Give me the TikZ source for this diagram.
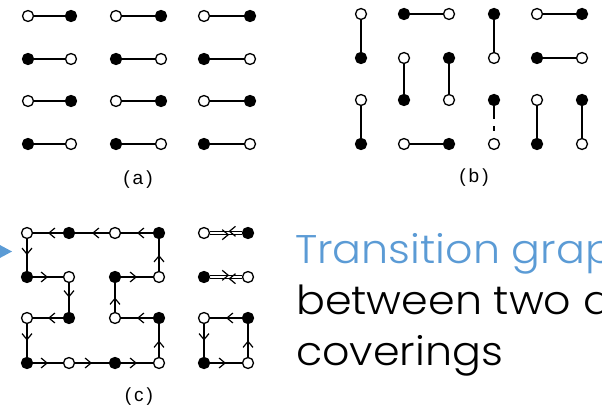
\documentclass[tikz,border=0pt]{standalone}
\usepackage{fontspec}
\usetikzlibrary{arrows.meta,decorations.markings}
\newfontfamily\gothic{Poppins}[UprightFont=* Light,FakeStretch=1.07]
\newfontfamily\labelfont{Liberation Sans}
\definecolor{accent}{HTML}{5B9BD5}
\tikzset{
 vtx/.style={circle,draw=black,line width=1.3pt,minimum size=11pt,inner sep=0pt},
 openv/.style={vtx,fill=white},
 fullv/.style={vtx,fill=black},
 dimer/.style={line width=1.3pt},
 arr/.style={line width=1.3pt,postaction={decorate},
   decoration={markings,mark=at position #1 with {\arrow{Straight Barb[length=6pt,width=10pt,line width=1.2pt]}}}},
 arr/.default=0.5,
 lbl/.style={font=\labelfont\fontsize{19}{21}\selectfont,inner sep=0pt},
 titletext/.style={anchor=base west,inner sep=0pt,font=\gothic\fontsize{40}{48}\selectfont},
}
\begin{document}
\begin{tikzpicture}[x=1pt,y=-1pt]
\useasboundingbox (0,0) rectangle (602,409);
\clip (0,0) rectangle (602,409);
% panel (a)
\foreach \r/\y in {1/16,2/59,3/101,4/144}{
 \foreach \c/\x in {1/28,2/71,3/116,4/161,5/204,6/250}{
  \pgfmathtruncatemacro\p{mod(\r+\c,2)}
  \ifnum\p=0 \node[openv] (a\r\c) at (\x,\y) {};\else \node[fullv] (a\r\c) at (\x,\y) {};\fi
 }}
\foreach \r in {1,2,3,4}{
 \draw[dimer] (a\r1) -- (a\r2);
 \draw[dimer] (a\r3) -- (a\r4);
 \draw[dimer] (a\r5) -- (a\r6);
}
\node[lbl] (la) at (138,180) {(\hspace{3pt}a\hspace{3pt})};
% panel (b)
\foreach \r/\y in {1/14,2/58,3/100,4/144}{
 \foreach \c/\x in {1/361,2/404,3/449,4/494,5/537,6/582}{
  \pgfmathtruncatemacro\p{mod(\r+\c,2)}
  \ifnum\p=0 \node[openv] (b\r\c) at (\x,\y) {};\else \node[fullv] (b\r\c) at (\x,\y) {};\fi
 }}
\foreach \u/\v in {11/21,31/41,12/13,14/24,15/16,22/32,23/33,25/26,35/45,36/46,42/43}{
 \draw[dimer] (b\u) -- (b\v);
}
\draw[dimer,dash pattern=on 13pt off 7pt on 5pt off 20pt] (b34) -- (b44);
\node[lbl] (lb) at (474,178) {(\hspace{3pt}b\hspace{3pt})};
% panel (c)
\foreach \r/\y in {1/233,2/277,3/318,4/363}{
 \foreach \c/\x in {1/27,2/69,3/115,4/159,5/204,6/248}{
  \pgfmathtruncatemacro\p{mod(\r+\c,2)}
  \ifnum\p=0 \node[openv] (c\r\c) at (\x,\y) {};\else \node[fullv] (c\r\c) at (\x,\y) {};\fi
 }}
\foreach \u/\v in {14/13,13/12,12/11,11/21,21/22,22/32,32/31,31/41,41/42,42/43,43/44,44/34,34/33,33/23,23/24,24/14,36/35,35/45,45/46,46/36}{
 \draw[arr] (c\u) -- (c\v);
}
\draw[arr=0.42,line width=1pt] ([yshift=1.7pt]c16.west) -- ([yshift=1.7pt]c15.east);
\draw[arr=0.6,line width=1pt] ([yshift=-1.7pt]c15.east) -- ([yshift=-1.7pt]c16.west);
\draw[arr=0.42,line width=1pt] ([yshift=-1.7pt]c26.west) -- ([yshift=-1.7pt]c25.east);
\draw[arr=0.6,line width=1pt] ([yshift=1.7pt]c25.east) -- ([yshift=1.7pt]c26.west);
\node[lbl] (lc) at (139,397) {(\hspace{3pt}c\hspace{3pt})};
% pointer and text
\fill[accent] (-2,244) -- (12,251.5) -- (-2,259) -- cycle;
\node[titletext,text=accent] (t1) at (295,263) {Transition graph};
\node[titletext] (t2) at (296,314) {between two dimer};
\node[titletext] (t3) at (296,365) {coverings};
\end{tikzpicture}
\end{document}
